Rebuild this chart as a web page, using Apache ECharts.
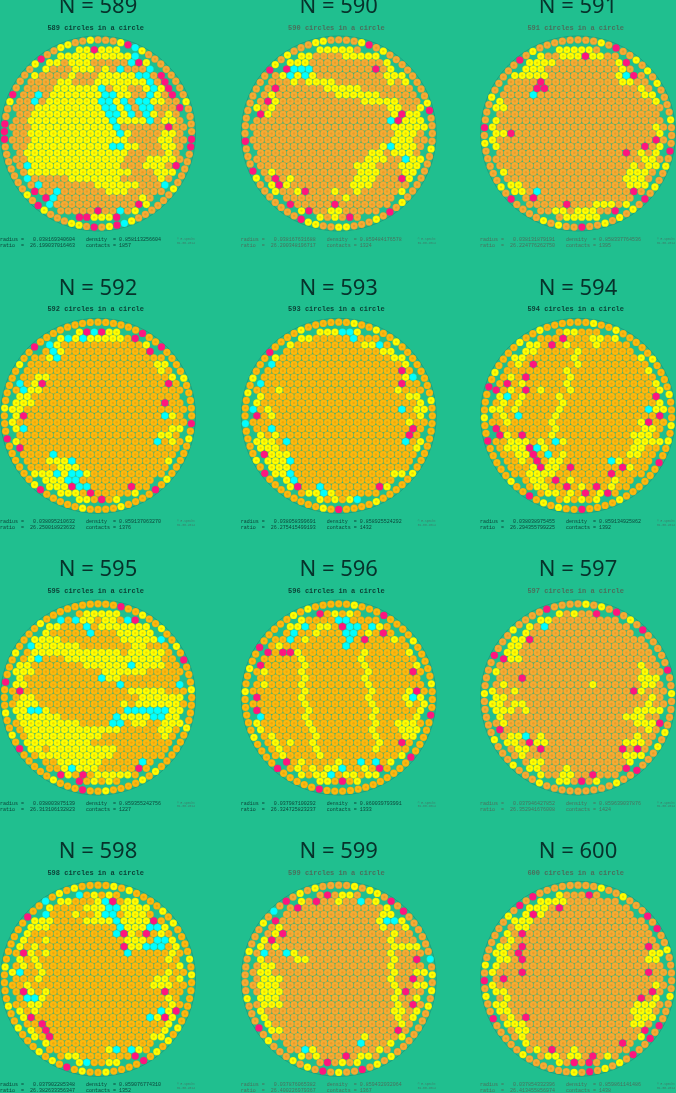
<!DOCTYPE html>
<html>
<head>
<meta charset="utf-8">
<style>
  html, body { margin: 0; padding: 0; background: #20bf8f; }
  #chart { width: 676px; height: 1093px; }
</style>
<script src="https://cdn.jsdelivr.net/npm/echarts@6/dist/echarts.min.js"></script>
</head>
<body>
<div id="chart"></div>
<script>
// values
const panelN = [589, 590, 591, 592, 593, 594, 595, 596, 597, 598, 599, 600]
const radii = ['0.038169340604', '0.038167631688', '0.038131879191', '0.038095210632', '0.038058399691', '0.038038975455', '0.038003875139', '0.037987100292', '0.037946427852', '0.037902285348', '0.037876065382', '0.037854332396']
const densities = ['0.858113256604', '0.859484176578', '0.858337764536', '0.859137063270', '0.858925524292', '0.859134925862', '0.859355242756', '0.860039793991', '0.859639037876', '0.859076774310', '0.859432032064', '0.859861141486']
const ratios = ['26.199037016463', '26.200348196717', '26.224776262750', '26.250018923632', '26.275415499193', '26.294355799225', '26.313106132823', '26.324725823237', '26.352941676008', '26.382633356347', '26.400226979367', '26.413455856974']
const contacts = [1857, 1324, 1395, 1376, 1432, 1392, 1227, 1333, 1424, 1352, 1367, 1438]

// outer ring of each packing, clockwise from the top
// . orange, y yellow, c cyan, m magenta
const ring589 = '...ymcy........y....mm.....y......ycmy.m.yy...ym.y.......mmm..ym....ym..yy..y'
const ring590 = '...ym.y........ym....y.......y.m.y...yy..yym.......ym...m.........my.y...yy.'
const ring591 = '...y.m..y.y.y....y...m.y..y.m.y.y.y..m..y.y....m.y.....y.m...y.....m.y.....'
const ring592 = '......m..m....y.....m.y.....y.m....y....y.....my......m...y.....y..m........'
const ring593 = '..y..y..y........y.........y.....y....m.y........m.y....c...y.y...m....y....'
const ring594 = '..y..y.....y....y...y.y..m......y....m..y.y.m..y.....m..y...m.y....y..y....'
const ring595 = '...m..y..y..y.m...y....y......y.y....y..m...y.....m.y..y...m...y....y.......'
const ring596 = '..y...m....y.....y...m.....m............m.....m....y.....y..y..m.....y.y...'
const ring597 = '.y.y.m.y.m.....m..y....y.y...m..y.........y...y...y.....y....m...y....m...'
const ring598 = '..y.y....y.y....y.y......y.y.y.m....y..y.m.y.y...y..y....y......m..c.y.y..'
const ring599 = '..y.yy.m.m......c.y.y.y.......y.y.m..y.m.y.y...y.m...y.....y...y.c.m.y.y..'
const ring600 = '...y..y...m.m..y.....y...m.m..m.y.y.m.y......y.....m..y.m.y......y.m.m.....'

// inner lattice of each packing, one string per row from top to bottom
const rows589 = [
  '........cyymyyyy', '......yyyyyyyyyyccy', '.....yy.yyy.....cmy', '....y...yyy.y.c...cy.m',
  '...y....y...yyyyycc.m', '......yy...yyyyyyyc.mm', '......yyyyyyc.yy..ycymm', '...c.yyyyyyyccyy..cy.m',
  '...c.yyyyyyyccyc.ccyy', '...yyyyyyyyyccyc.cc...m', '...yyyyyyyyyyccyc.cy.y', '..yyyyyyyyyyycyyyyc.yy',
  '...yyyyyyyyyyyc......m', '..yyyyyyyyyyyycy....yy', '...yyyyyyyyyyyyy....yy', '..yyyyyyyyyyyccyy...yy',
  '..yyyyyyyyyyyyyy.....y', '..yyyyyyyyyyyyy...yyyy', '..cyyyyyyyyyyyy...yyy.m', '..yyyyyyyyyyyyyy...yyyy',
  '..c.....yyyyyyy.....y.m', '...c.......yyyyyy...cy', '...m..c......yyy......c', '....mc...........y.....y',
  '....yc...........my.c', '....y......m..c.y.ym', '........ymmyyym'
]
const rows590 = [
  '........myyyyy..y', '......yy....yyyyy.y', '.....yyy..........yy', '....mccc........m.yy',
  '....ycycy.........yyy', '.....y.yyyy.......y.ym', '...m......yyyyy', '..y........yyyyyy',
  '..my...........yyyyy', 'y.y...............yy..yy', '.my................ymyyy', '..................cmyyy',
  '...................yyyyy', '...................yyy', '...................yyy', '.................ycyyy',
  '................yy.yyy.m', '...............yyy..cyy', 'y.............yyy...yyy', 'y.y...........yyy...yyy',
  '...m.y........yyy...my', '..ymy........yyy.....y', '...y..ym...y..y.....yy', '..y.........y........y',
  '....mm.....m........m', '......ym..yy.....yy.yy', '.........y.y.m.y.y'
]
const rows591 = [
  '........myyyyy.y', '.....yy..yyymyy..y', '....yyyyy........ym', '..yyyyy..........y.myy',
  '...yyyyy.........ycm', '......m..........yy', 'y.....mm............y', '.....c..............yy',
  'yy....................yy', 'yy......................y', 'y', 'y',
  'y.....................y', 'yym...................yy', 'y.....................m', 'y...................m.y',
  '..................m.y.y', '....................yy', 'y..................y.yy', '.y................yyy.yy',
  '.y................yyy.yc', '..yy..............yyy', '...yy.c............m.m', '.....m..............',
  '..........m...yyy.y.', '........yy.yyy..m', '..........yyyyy.m'
]
const rows592 = [
  '........mymcmyyy', '......ycycyyyyy.myy', '.....cy...........yy', '.....cy...........m.y',
  '.....yc..............y', '...................yy', '....................y.m', '...yy................y',
  '.c.ym................m', '.cyy', 'myy....................y', 'yyy.................m',
  'yy', 'ym..................cy', 'y', 'yc...................yy',
  'y...................yy.m', 'y..................c.y.m', 'ym', '.....c',
  '.m...yyyc............y', '......yyy.............yc', '...yyycyccy......', '....yyycc...........m',
  '.....yyymcc.....m', '......yyy.m.....y', '.........yy.m.y.m'
]
const rows593 = [
  '.....yyyyyyyccy.c', '......yy.....c...', '....cy.........yyc.m', '...y.............yy',
  '..yy...............yyy', '..c.................yc', '.y..................m.y', '....................yc',
  '.c..................m', '...y...............y', 'my...................yy', 'y.....................y',
  'c.y.................c.yy', 'm.y...................y', '.....................y', '..c..................m.y',
  '.y.y.................m', 'yyy.c...............c.y', 'myyy..................y', 'mmyyy',
  '.yyyyc', '..yyy.................m', '...yyc.............yy', '...cyc',
  '.....ym..c.......my', '.......yycy.........ycyy', '........yy.y.ycy.yy'
]
const rows594 = [
  '........m.yy', '.........m...yy.yy.c', '.....yy.m.y...y.....cy', '....yy.....y.......yyy.y',
  '...yy......y........ym.y', '...y.m.....y..........y.m', '.y........y..........yy', '..y.m.....y...........yy',
  'y.m.y.....y...........ym', 'm.y.m.y...y...........yy', '.yc.y....y............m', '.y.y.....y............yy',
  'yy.y.....y...........cyy', '.y.c....y.............my', '..y.....y...........ym', 'm.......y...........yy',
  '.my.m...y..........yyy', '..yyy.y.cy.........yyyy', '..yyymcy...........yy', '...yym.c.y........yy',
  '....y.m.yy......cy', '.....ymyy.m......my', '.....yyyy.......m', '.....yy.m.y.....y',
  '......yy..m.y.m.y', '.......yy.y.m.ym', '........y.y.y.y'
]
const rows595 = [
  '........m.yyyyyy.y', '......c.cyy.yy.cm.m.yy', '.....yy...c.yyyyyyy.y', '...yy.....c...yyyyyyym',
  '..cyyyy........yyyyycc.c', '..cyyyyyy.......yy...y.m', '.m.yyyyyyyyyyyy.yyyyy', '..yc...yyyyyyyyyyyyy.....y',
  '.yy.......yyyyyycyyyy', 'yyy.........yyyyyy', '.y..........cyy', 'yy............c.......c',
  '.m..............yyyyy', '.yy..............yyyyyy', '.yyy...........y.yyyyyy', 'yyccy..........ccccccyy',
  'yyyyyyy.......cyyyyccyy', '.yyyyyyyy....cc.yy..yyy', 'c.yyyyyyyyyyyyy.....yy', '..yyyyyyyyyy........y',
  '.cyyyyyyyyy', '..yy.yyyyyyyyy.......cy', '.y..yyyyyyyyyy.......ym', '..yy..yyyyyy.....c',
  '....y..ycyyy.....m.y', '.....ymy.m.yyyyy.y', '........ym.y.y.yym'
]
const rows596 = [
  '.........m.y.y.y', '.....yy....cc....y', '....yyyc.yy.mcc.cy.m', '..y..c..y...cc.y.m.y',
  '.....c.y.....c.m...y.y', '...y........c........m', '..m.mmy........y.....yy', '......y.......y.......y',
  '.m.....y.......y......y', '.y....y........y.....m', 'y......y.......y.......y', '.y....y........y',
  '.......y........y....ym', 'm.....y........y....ycy', '.......y........y....y.y', 'm......y........y.....y',
  '.c.....y........y.....y', 'y......y........y..yyy', '.y......y.......y...yyy', '..y.....y.......y...yy',
  '...y.y..y........y..m.y', '...y....y.......y....y', '....y....y..........y.yy', '....m.y....y..c.c.yy.c',
  '......y.y.yyc..y.m.yy.m', '.....cy.yyc.yy.yy.y', '........yyy.m.yy.y'
]
const rows597 = [
  '.......myy.y..m.y', '......yy............y', '.....y.c............yyy', '....y..............myy',
  '...yym...............my', '..yy..................yyy', '.yyy', '.myy',
  '....................y', 'y...................y', 'm...m...............yyy', '.y...........y......yy',
  'y..y...............my', 'yy...................y', 'yy.yy................y', 'yyy.y..............yyyy',
  '.y................yyy', '.y.................yyym', '.m...................y', '..yyc.y............y',
  '..yy.myy..........yyy', '...yy.m..........m.m.yy', '....y.............yyy', '.....yy...........yyyy.',
  '.....yy...y.......m.yyy', '......y..yy..m...yy.m', '........yyy.m.y.y'
]
const rows598 = [
  '.........c.y.y', '......yy...ycm.yy', '.....y....yyyccyyyy', '...yc...y..ycc.yyy.y',
  '...yyy....yyyycyyyym', '..yyy.........cyyyccy.m', '..y...........cmy.m.y.m', '.y..y..........yyy.ccy',
  '.y.y...........myyccc.y', '.my.y..........c.....y', 'cy.y.................y', '.y.y..................y',
  'yc..y................y', '...y...............yy.y', '..y................yyy', '.my.y...............m',
  '..ccy................y', '..yy.................y', '.y.y................cym', '.ym...............cymym',
  '.y..m................yy', '..y.m...............yy', '..yy.m.............yy', '...yy..............yy',
  '.............yc.cy.m', '.......yy.......mm.y.y', '.........yc..yyyyym'
]
const rows599 = [
  '......yyy.m.yy.c.yymm', '.....yy.m..y..c.yy.yyy', '....c.m...........y.yyy', '...y.............yyy',
  '..mm.............yccyy', '...y.............y..y', '.y.ym..............y', '.ym...............y...c',
  '.y.y...............yyyy', '.c..cy............y', '.y....yy...........y..m', '.yy...............y',
  '.yy................y..yy', '.yyy..............y..m.y', '.yyy...............y..yy', '.yyy...............ym',
  '.yyy...............y..y', '.yyy...............y.m.y', '.y.................yy.y', '.y.................y.y',
  '..y.................y..y', '..yy...............m', '..y............y....yy', '..ym..........c...yy',
  '....y..cy........y.y.m', '.....yy.y...m.yy', '........y.m.y.ym.m'
]
const rows600 = [
  '.......y.y...m.m.yy', '.....yyyyy.........yy', '.....yyy.m.........yyyy', '....ymy..............yy',
  '...yyy', '...yy................yy', '..y.m..................y', '..y...................yy',
  '.yy.m................m.y', 'yy.m.................yyy', '.yy.m................yy', 'y',
  'y...m................m', '.m.....................y', 'y.....................y', 'yy...................m.y',
  'y.y.................m.yy', 'yy.................yyy', '.yy................yyy', '..y.m..............yyy',
  '..yyy..............yy', '...yy...............m', '....y...............y', '....y............m..y',
  '......y.m..y.......yy.y', '.......yy.yy.m.y.y', '.........y.m.m.m.m'
]

const ringList = [ring589, ring590, ring591, ring592, ring593, ring594, ring595, ring596, ring597, ring598, ring599, ring600]
const rowList = [rows589, rows590, rows591, rows592, rows593, rows594, rows595, rows596, rows597, rows598, rows599, rows600]

const columnX = [98, 338.7, 578]
const rowY = [133.5, 415.8, 697.5, 978.8]
const discR = 97.5
const circleD = 7.3
const darkTitle = [true, false, false, true, true, true, true, true, false, true, false, false]
const brightOrange = [false, false, false, true, true, true, true, true, false, true, false, false]
const monoFont = '"Liberation Mono", monospace'

const palette = { y: '#ffff00', c: '#00ffff', m: '#ff1480' }

// turn one ring string and its rows into [x, y, colour code] in disc units
const buildCircles = (ring, rows) => {
  const pts = []
  const rr = (discR - circleD / 2 - 0.2) / discR
  ring.split('').forEach((code, i) => {
    const a = (i / ring.length) * 2 * Math.PI
    pts.push([rr * Math.sin(a), rr * Math.cos(a), code])
  })
  const dx = 7.44 / discR
  const dy = 6.44 / discR
  const limit = 86.5 / discR
  rows.forEach((row, r) => {
    const k = r - 13
    const shift = k % 2 === 0 ? 11 : 11.5
    const cols = k % 2 === 0 ? 23 : 24
    for (let j = 0; j < cols; j++) {
      const x = (j - shift) * dx
      const y = -k * dy
      if (Math.hypot(x, y) > limit) continue
      pts.push([x, y, row[j] || '.'])
    }
  })
  return pts
}

const grid = []
const xAxis = []
const yAxis = []
const series = []
const graphic = []

panelN.forEach((n, i) => {
  const cx = columnX[i % 3]
  const cy = rowY[Math.floor(i / 3)]
  const left = cx - 98
  const orange = brightOrange[i] ? '#fdb90e' : '#f6ab34'
  const circles = buildCircles(ringList[i], rowList[i])

  grid.push({ left: cx - discR, top: cy - discR, width: discR * 2, height: discR * 2 })
  xAxis.push({ type: 'value', gridIndex: i, min: -1, max: 1, show: false })
  yAxis.push({ type: 'value', gridIndex: i, min: -1, max: 1, show: false })

  series.push({
    type: 'scatter', xAxisIndex: i, yAxisIndex: i, silent: true, clip: false, animation: false,
    data: [[0, 0]], symbolSize: discR * 2,
    itemStyle: { color: 'transparent', borderColor: 'rgba(20,110,100,0.7)', borderWidth: 0.7 }
  })
  series.push({
    type: 'scatter', xAxisIndex: i, yAxisIndex: i, silent: true, clip: false, animation: false,
    data: circles, symbolSize: circleD,
    itemStyle: {
      color: (p) => palette[p.data[2]] || orange,
      borderColor: 'rgba(150,125,30,0.35)',
      borderWidth: 0.4,
      opacity: 1
    }
  })
  series.push({
    type: 'scatter', xAxisIndex: i, yAxisIndex: i, silent: true, clip: false, animation: false,
    data: circles.filter(c => c[2] === '.' || c[2] === 'y'), symbolSize: 2.4,
    itemStyle: { color: 'rgba(190,125,10,0.32)' }
  })

  const textColor = darkTitle[i] ? '#0c3f35' : '#4a6f5c'
  const addText = (text, x, y, font, align, fill) => {
    graphic.push({
      type: 'text', silent: true,
      style: { text, x, y, font, fill, textAlign: align || 'left', textVerticalAlign: 'middle' }
    })
  }
  const titleY = [28, 309.7, 591.3, 873][Math.floor(i / 3)]
  const infoY = [240, 522, 803.7, 1085][Math.floor(i / 3)]
  const headY = [6.5, 288.5, 570, 852][Math.floor(i / 3)]

  addText('N = ' + n, cx, headY, '400 22px "Noto Sans", sans-serif', 'center', '#07322b')
  addText(n + ' circles in a circle', cx - 2.3, titleY, 'bold 7px ' + monoFont, 'center', textColor)
  addText('radius =   ' + radii[i], left, infoY, '5px ' + monoFont, 'left', textColor)
  addText('ratio  =  ' + ratios[i], left, infoY + 6, '5px ' + monoFont, 'left', textColor)
  addText('density  = ' + densities[i], left + 86, infoY, '5px ' + monoFont, 'left', textColor)
  addText('contacts = ' + contacts[i], left + 86, infoY + 6, '5px ' + monoFont, 'left', textColor)
  addText('\u00a9 E.Specht', left + 186, infoY - 0.5, '3px ' + monoFont, 'center', '#3f7a68')
  addText('01.08.2014', left + 186, infoY + 3, '3px ' + monoFont, 'center', '#3f7a68')
})

const chart = echarts.init(document.getElementById('chart'), null, { renderer: 'canvas' })
chart.setOption({
  animation: false,
  backgroundColor: '#20bf8f',
  grid, xAxis, yAxis, series, graphic
})
</script>
</body>
</html>
